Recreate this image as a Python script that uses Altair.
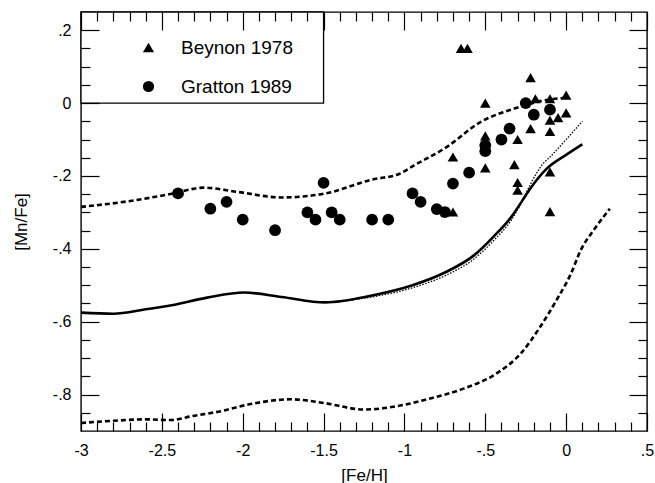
import altair as alt
import pandas as pd

# ---------------- data ----------------
beynon_feh = [-0.65, -0.61, -0.22, -0.50, -0.19, -0.10, 0.00, 0.00, -0.05, -0.10, -0.22,
              -0.10, -0.50, -0.30, -0.70, -0.50, -0.32, -0.30, -0.30, -0.10, -0.10, -0.70]
beynon_mnfe = [0.15, 0.15, 0.07, 0.00, 0.012, 0.012, 0.022, -0.027, -0.04, -0.047, -0.07,
               -0.078, -0.09, -0.10, -0.148, -0.178, -0.169, -0.218, -0.239, -0.189, -0.298, -0.299]

gratton_feh = [-2.40, -2.20, -2.10, -2.00, -1.80, -1.60, -1.55, -1.50, -1.45, -1.40, -1.20,
               -1.10, -0.95, -0.90, -0.80, -0.75, -0.70, -0.60, -0.50, -0.50, -0.40, -0.35,
               -0.25, -0.20, -0.10]
gratton_mnfe = [-0.248, -0.290, -0.271, -0.320, -0.349, -0.300, -0.320, -0.219, -0.300, -0.320,
                -0.320, -0.320, -0.248, -0.271, -0.291, -0.299, -0.221, -0.191, -0.116, -0.132,
                -0.100, -0.070, 0.000, -0.032, -0.018]

upper_x = [-3.0, -2.67, -2.44, -2.24, -2.03, -1.76, -1.5, -1.2, -1.03, -0.94, -0.74, -0.53,
           -0.32, -0.14, 0.0]
upper_y = [-0.285, -0.267, -0.249, -0.232, -0.244, -0.259, -0.249, -0.210, -0.194, -0.171,
           -0.121, -0.052, -0.015, 0.007, 0.015]

solid_x = [-3.0, -2.8, -2.6, -2.44, -2.22, -1.99, -1.76, -1.49, -1.2, -0.95, -0.74, -0.57,
           -0.45, -0.34, -0.27, -0.23, -0.12, 0.0, 0.1]
solid_y = [-0.575, -0.578, -0.566, -0.555, -0.534, -0.520, -0.532, -0.547, -0.528, -0.500,
           -0.463, -0.418, -0.367, -0.313, -0.267, -0.240, -0.180, -0.142, -0.113]

dotted_x = [-1.49, -1.2, -0.95, -0.74, -0.57, -0.45, -0.34, -0.27, -0.22, -0.14, -0.1, 0.0, 0.1]
dotted_y = [-0.547, -0.532, -0.507, -0.472, -0.428, -0.378, -0.322, -0.268, -0.222, -0.165,
            -0.148, -0.100, -0.050]

lower_x = [-3.0, -2.8, -2.6, -2.45, -2.3, -2.15, -1.95, -1.7, -1.5, -1.25, -1.0, -0.86, -0.63,
           -0.43, -0.28, -0.16, -0.06, 0.03, 0.09, 0.17, 0.27]
lower_y = [-0.878, -0.872, -0.868, -0.870, -0.858, -0.847, -0.826, -0.813, -0.823, -0.841,
           -0.828, -0.813, -0.783, -0.742, -0.687, -0.614, -0.541, -0.468, -0.404, -0.349, -0.290]

# legend frame (data coordinates of the box)
box_x, box_x2, box_y, box_y2 = [-3.0], [-1.5], [0.0], [0.25]

# tick values
x_major = [-3.0, -2.5, -2.0, -1.5, -1.0, -0.5, 0.0, 0.5]
x_minor = [-2.9, -2.8, -2.7, -2.6, -2.4, -2.3, -2.2, -2.1, -1.9, -1.8, -1.7, -1.6,
           -1.4, -1.3, -1.2, -1.1, -0.9, -0.8, -0.7, -0.6, -0.4, -0.3, -0.2, -0.1,
           0.1, 0.2, 0.3, 0.4]
y_major = [-0.8, -0.6, -0.4, -0.2, 0.0, 0.2]
y_minor = [-0.85, -0.75, -0.7, -0.65, -0.55, -0.5, -0.45, -0.35, -0.3, -0.25, -0.15,
           -0.1, -0.05, 0.05, 0.1, 0.15]

FONT = "Liberation Sans"
X_DOM = [-3.0, 0.5]
Y_DOM = [-0.9, 0.25]
MAJ, MIN = 18, 9

# ---------------- frames ----------------
pts = pd.DataFrame({
    "feh": beynon_feh + gratton_feh,
    "mnfe": beynon_mnfe + gratton_mnfe,
    "src": ["Beynon 1978"] * len(beynon_feh) + ["Gratton 1989"] * len(gratton_feh),
})
up = pd.DataFrame({"feh": upper_x, "mnfe": upper_y})
so = pd.DataFrame({"feh": solid_x, "mnfe": solid_y})
do = pd.DataFrame({"feh": dotted_x, "mnfe": dotted_y})
lo = pd.DataFrame({"feh": lower_x, "mnfe": lower_y})
box = pd.DataFrame({"x": box_x, "x2": box_x2, "y": box_y, "y2": box_y2})

xs = alt.Scale(domain=X_DOM, nice=False, zero=False)
ys = alt.Scale(domain=Y_DOM, nice=False, zero=False)

lab = "replace(toString(datum.value), '0.', '.')"

common = dict(domain=False, grid=False, tickColor="black", tickWidth=1.2, zindex=1,
              labelColor="black", titleColor="black", labelFont=FONT, titleFont=FONT,
              labelFontSize=16, titleFontSize=17, titleFontWeight="normal",
              labelOverlap=False, labelFlush=False, labelBound=False)


def ax(orient, values, size, labels=False, title=None, **kw):
    d = dict(common)
    d.update(kw)
    if labels:
        return alt.Axis(orient=orient, values=values, tickSize=size, offset=-size,
                        labels=True, labelExpr=lab, title=title, **d)
    return alt.Axis(orient=orient, values=values, tickSize=size, offset=-size,
                    labels=False, title=None, **d)


x_bottom_major = ax("bottom", x_major, MAJ, labels=True, title="[Fe/H]",
                    labelPadding=11, titlePadding=9)
y_left_major = ax("left", y_major, MAJ, labels=True, title="[Mn/Fe]",
                  labelPadding=10, titlePadding=22)
x_bottom_minor = ax("bottom", x_minor, MIN)
y_left_minor = ax("left", y_minor, MIN)
x_top_major = ax("top", x_major, MAJ)
y_right_major = ax("right", y_major, MAJ)
x_top_minor = ax("top", x_minor, MIN)
y_right_minor = ax("right", y_minor, MIN)

legend_box = alt.Chart(box).mark_rect(fill="white", stroke="black", strokeWidth=1.3).encode(
    x=alt.X("x:Q", scale=xs, axis=x_bottom_major),
    x2="x2:Q",
    y=alt.Y("y:Q", scale=ys, axis=y_left_major),
    y2="y2:Q",
)


def line(df, dash, width, xaxis=None, yaxis=None):
    kw = dict(color="black", strokeWidth=width, interpolate="monotone")
    if dash:
        kw["strokeDash"] = dash
    return alt.Chart(df).mark_line(**kw).encode(
        x=alt.X("feh:Q", scale=xs, axis=xaxis),
        y=alt.Y("mnfe:Q", scale=ys, axis=yaxis),
    )


upper = line(up, [5, 3], 2.6, x_bottom_minor, y_left_minor)
lower = line(lo, [5, 3], 2.6, x_top_major, y_right_major)
dotted = line(do, [1.5, 1.5], 1.3, x_top_minor, y_right_minor)
solid = line(so, None, 2.6)

points = alt.Chart(pts).mark_point(filled=True, opacity=1, strokeWidth=0).encode(
    x=alt.X("feh:Q", scale=xs, axis=None),
    y=alt.Y("mnfe:Q", scale=ys, axis=None),
    shape=alt.Shape("src:N",
                    scale=alt.Scale(domain=["Beynon 1978", "Gratton 1989"],
                                    range=["triangle-up", "circle"]),
                    legend=alt.Legend(title=None, orient="none", legendX=58, legendY=26,
                                      labelFont=FONT, labelFontSize=19, labelColor="black",
                                      labelOffset=23, rowPadding=19, symbolSize=125,
                                      symbolFillColor="black", symbolStrokeWidth=0,
                                      padding=0)),
    size=alt.condition(alt.datum.src == "Beynon 1978", alt.value(112), alt.value(138)),
    color=alt.value("black"),
)

chart = alt.layer(legend_box, upper, lower, dotted, solid, points).resolve_scale(
    x="independent", y="independent"
).properties(
    width=566, height=419,
    autosize=alt.AutoSizeParams(type="none"),
    padding={"left": 81, "top": 12, "right": 8, "bottom": 52},
    background="white",
).configure_view(stroke="black", strokeWidth=1.4)

chart.save("out.html", embed_options={"renderer": "svg", "actions": False})
